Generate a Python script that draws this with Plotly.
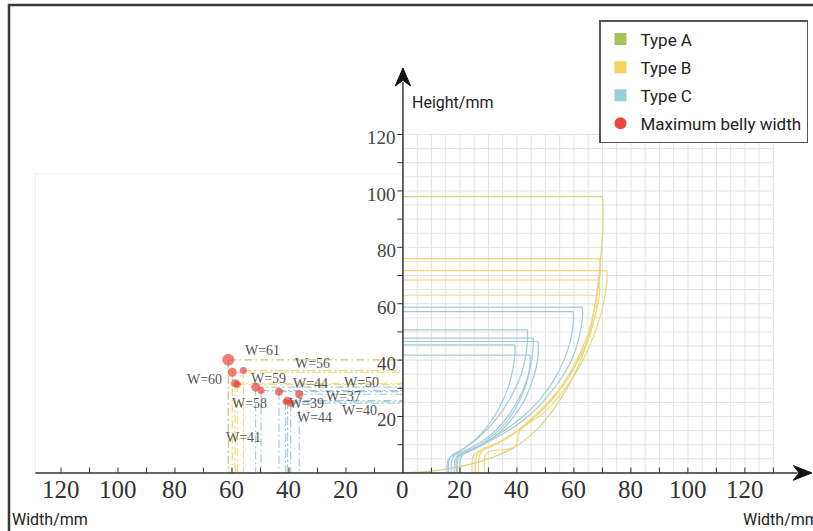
import plotly.graph_objects as go
import numpy as np

# ---------------- data ----------------
type_colors = {"A": "#d6d486", "B": "#efd878", "C": "#a3cbd9"}
guide_colors = {"A": "#c5c873", "B": "#efd878", "C": "#a3cbd9"}
legend_colors = {"A": "#a8c25d", "B": "#f0d45c", "C": "#9ccbd9"}
legend_names = {"A": "Type A", "B": "Type B", "C": "Type C"}
dot_color = "#e8473c"

# right-hand vessel profiles: rim point on axis, rim corner, then wall down to the foot (mm)
vessel_type = ["A", "B", "B", "B", "B", "C", "C", "C", "C", "C", "C", "C"]
vessel_x = [
    [0, 70, 70.3, 70, 69.2, 67.8, 65.5, 62, 57, 51, 45, 39, 30, 20, 10, 0],
    [0, 69, 69.3, 68.6, 67, 64.5, 60.5, 55, 48, 40, 33, 28, 26, 25.5],
    [0, 71.6, 71.6, 70.6, 68.5, 65.5, 61, 55.5, 49, 44, 41, 40.3, 39.5, 36, 31, 29, 28.7],
    [0, 69, 69, 67.8, 65.5, 62, 57.5, 51.5, 44, 36, 30, 27.5, 26.8, 26.5],
    [0, 68, 68, 66.8, 64.5, 61, 56.5, 50.5, 43, 35, 29, 25.5, 24.5, 24.3],
    [0, 63, 63, 62, 60, 56.5, 51.5, 45, 37, 29, 22, 19, 18.3, 18],
    [0, 59.8, 59.8, 58.8, 56.5, 53, 48, 41.5, 34, 26.5, 21, 19, 18.8],
    [0, 43.7, 43.7, 43, 41.5, 39, 35.5, 31, 26, 21, 17.5, 16.3, 16],
    [0, 45.7, 45.7, 45, 43.5, 41, 37.5, 33, 27.5, 22, 18.5, 17.3, 17],
    [0, 47.5, 47.5, 46.8, 45, 42.5, 38.5, 33.5, 28, 23, 20, 19.3, 19],
    [0, 39.3, 39.3, 38.5, 37, 34.5, 31, 27, 22.5, 19, 16.5, 15.8, 15.5],
    [0, 44.6, 44.6, 43.8, 42, 39, 35, 30, 25, 21.5, 20.2, 20],
]
vessel_y = [
    [98, 98, 92, 84, 74, 62, 50, 39, 29, 20, 13.5, 9, 5, 2.2, 0.6, 0],
    [76, 76, 72, 66, 57, 48, 39, 30, 22, 15, 10.5, 8.5, 6.5, 0],
    [71.7, 71.7, 68, 61, 53, 45, 36, 28, 21, 17.5, 15, 12, 9.5, 8.3, 7.8, 6.5, 0],
    [68.4, 68.4, 64, 57, 49, 41, 33, 25, 18, 12, 9, 7.5, 6, 0],
    [63, 63, 59, 53, 46, 39, 31.5, 24, 17, 11.5, 8.5, 7, 5.5, 0],
    [58.8, 58.8, 55, 49, 42, 35, 28, 21, 15, 10.5, 7.5, 6, 4.5, 0],
    [57.2, 57.2, 53.5, 47, 40, 33, 26, 19.5, 14, 9.5, 7, 5.5, 0],
    [50.7, 50.7, 47, 41, 35, 29, 23, 17, 12, 8.5, 6.5, 5, 0],
    [47.8, 47.8, 44.5, 39, 33, 27, 21, 15.5, 11, 8, 6.5, 5, 0],
    [46.6, 46.6, 43, 37.5, 31.5, 25.5, 19.5, 14, 10, 7.5, 6, 4.5, 0],
    [45.4, 45.4, 42, 36.5, 30.5, 24.5, 18.5, 13.5, 9.5, 7, 5.5, 4.5, 0],
    [41.8, 41.8, 38.5, 33.5, 28, 22, 16.5, 12, 8.5, 6.8, 5, 0],
]

# left-hand maximum belly width points (mm, plotted at negative width)
belly_x = [-61.3, -59.9, -56.0, -58.9, -58.1, -51.7, -49.8, -43.5, -36.4, -40.5, -39.4, -41.2]
belly_h = [40.1, 35.7, 36.3, 31.8, 31.4, 30.4, 29.2, 28.8, 27.9, 25.6, 24.7, 25.2]
belly_type = ["A", "B", "B", "B", "B", "C", "C", "C", "C", "C", "C", "C"]
belly_size = [12, 9, 7, 8, 7, 9, 7, 8, 8, 8, 7, 6]

label_text = ["W=61", "W=56", "W=60", "W=59", "W=44", "W=50", "W=58", "W=37", "W=39", "W=40", "W=44", "W=41"]
label_x = [-49.3, -31.9, -69.5, -47.3, -32.4, -14.5, -53.7, -20.9, -33.8, -15.1, -30.9, -56.0]
label_y = [43.4, 38.7, 33.2, 33.6, 31.8, 32.0, 24.6, 27.1, 24.7, 22.1, 19.5, 12.7]

x_tick_vals = [-120, -100, -80, -60, -40, -20, 0, 20, 40, 60, 80, 100, 120]
x_tick_text = ["120", "100", "80", "60", "40", "20", "0", "20", "40", "60", "80", "100", "120"]
y_tick_vals = [20, 40, 60, 80, 100, 120]
y_tick_text = ["20", "40", "60", "80", "100", "120"]

# ---------------- figure ----------------
fig = go.Figure()

# right-quadrant grid (5 mm)
gx, gy = [], []
for v in np.arange(0, 130.1, 5):
    gx += [v, v, None]; gy += [0, 120, None]
for v in np.arange(0, 120.1, 5):
    gx += [0, 130, None]; gy += [v, v, None]
fig.add_trace(go.Scatter(x=gx, y=gy, mode="lines", line=dict(color="#e3e3e3", width=1),
                         hoverinfo="skip", showlegend=False))

# faint left panel outline
fig.add_trace(go.Scatter(x=[-129, -129, 0], y=[0, 106, 106], mode="lines",
                         line=dict(color="#efefef", width=1), hoverinfo="skip", showlegend=False))

# vessel profiles
for t, xs, ys in zip(vessel_type, vessel_x, vessel_y):
    c = type_colors[t]
    fig.add_trace(go.Scatter(x=xs[:2], y=ys[:2], mode="lines", line=dict(color=c, width=1.2),
                             hoverinfo="skip", showlegend=False))
    fig.add_trace(go.Scatter(x=xs[1:], y=ys[1:], mode="lines",
                             line=dict(color=c, width=1.2, shape="spline", smoothing=1.0),
                             hoverinfo="skip", showlegend=False))

# dash-dot guide lines from each belly point
for t in ["C", "B", "A"]:
    lx, ly = [], []
    for bx, bh, bt in zip(belly_x, belly_h, belly_type):
        if bt == t:
            lx += [bx, 0, None, bx, bx, None]
            ly += [bh, bh, None, bh, 0, None]
    fig.add_trace(go.Scatter(x=lx, y=ly, mode="lines",
                             line=dict(color=guide_colors[t], width=1.2, dash="8px,3px,2px,3px"),
                             hoverinfo="skip", showlegend=False))

# belly points
fig.add_trace(go.Scatter(x=belly_x, y=belly_h, mode="markers",
                         marker=dict(color=dot_color, size=belly_size, line=dict(width=0)),
                         hoverinfo="skip", showlegend=False))

# legend entries
for i, t in enumerate(["A", "B", "C"]):
    fig.add_trace(go.Scatter(x=[None], y=[None], mode="markers", name=legend_names[t],
                             legendgroup=t,
                             marker=dict(symbol="square", size=11, color=legend_colors[t])))
fig.add_trace(go.Scatter(x=[None], y=[None], mode="markers", name="Maximum belly width",
                         legendgroup="D", marker=dict(symbol="circle", size=12, color=dot_color)))

# axes lines
axis_col = "#333333"
fig.add_shape(type="line", x0=-129, y0=0, x1=138.5, y1=0, line=dict(color=axis_col, width=1.5))
fig.add_shape(type="line", x0=0, y0=0, x1=0, y1=138.5, line=dict(color=axis_col, width=1.5))
fig.add_shape(type="path", path="M 143.5,0 L 137,2.6 L 139,0 L 137,-2.6 Z",
              fillcolor="#111", line=dict(color="#111", width=1))
fig.add_shape(type="path", path="M 0,143.6 L -2.7,137.2 L 0,139.2 L 2.7,137.2 Z",
              fillcolor="#111", line=dict(color="#111", width=1))

# tick marks
for v in range(-120, 131, 10):
    if v == 0:
        continue
    fig.add_shape(type="line", x0=v, y0=0, x1=v, y1=1.9, line=dict(color=axis_col, width=1))
for v in range(10, 121, 10):
    fig.add_shape(type="line", x0=-2.0, y0=v, x1=0, y1=v, line=dict(color=axis_col, width=1))

serif = "Liberation Serif"
for v, s in zip(x_tick_vals, x_tick_text):
    fig.add_annotation(x=v, y=-6.0, text=s, showarrow=False, xanchor="center", yanchor="middle",
                       font=dict(family=serif, size=25, color="#333"))
for v, s in zip(y_tick_vals, y_tick_text):
    fig.add_annotation(x=-1.8, y=v - 1.2, text=s, showarrow=False, xanchor="right", yanchor="middle",
                       font=dict(family=serif, size=19, color="#444"))

for s, lx_, ly_ in zip(label_text, label_x, label_y):
    fig.add_annotation(x=lx_, y=ly_, text=s, showarrow=False, xanchor="center", yanchor="middle",
                       font=dict(family=serif, size=14, color="#555"))

sans = "Roboto"
fig.add_annotation(x=2.5, y=131.5, text="Height/mm", showarrow=False, xanchor="left", yanchor="middle",
                   font=dict(family=sans, size=16, color="#222"))
fig.add_annotation(x=-137.8, y=-16.5, text="Width/mm", showarrow=False, xanchor="left", yanchor="middle",
                   font=dict(family=sans, size=16, color="#222"))
fig.add_annotation(x=118.8, y=-16.5, text="Width/mm", showarrow=False, xanchor="left", yanchor="middle",
                   font=dict(family=sans, size=16, color="#222"))

# outer frame
fig.add_shape(type="rect", xref="paper", yref="paper", x0=9 / 813, y0=-0.05, x1=1.05, y1=1 - 5 / 531,
              line=dict(color="#3a3a3a", width=2.5))

fig.update_layout(
    width=813, height=531, margin=dict(l=0, r=0, t=0, b=0),
    paper_bgcolor="white", plot_bgcolor="white",
    xaxis=dict(range=[-141.4, 143.9], visible=False, fixedrange=True),
    yaxis=dict(range=[-20.6, 167.7], visible=False, fixedrange=True),
    showlegend=True,
    legend=dict(x=599 / 813, y=1 - 20 / 531, xanchor="left", yanchor="top",
                bgcolor="white", bordercolor="#555", borderwidth=1.5,
                font=dict(family=sans, size=17, color="#222"),
                tracegroupgap=3, itemsizing="constant"),
)

fig.write_html("out.html")
